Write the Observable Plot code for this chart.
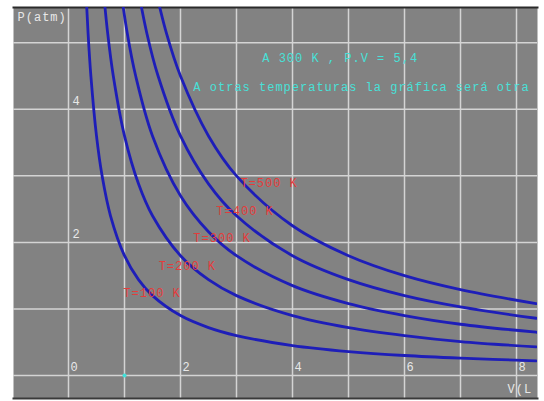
<!DOCTYPE html>
<html>
<head>
<meta charset="utf-8">
<script src="https://cdn.jsdelivr.net/npm/d3@7"></script>
<script src="https://cdn.jsdelivr.net/npm/@observablehq/plot@0.6"></script>
<style>
  html, body { margin: 0; padding: 0; background: #ffffff; }
  #chart svg { display: block; }
  #chart svg text { letter-spacing: 1px; }
</style>
</head>
<body>
<div id="chart"></div>
<script>
// Temperatures (K) of the isotherms
const temps = [100, 200, 300, 400, 500];

// Volumes (L) and pressures (atm) read along each isotherm
const v100 = [0.3, 0.35, 0.4, 0.5, 0.6, 0.75, 1, 1.25, 1.5, 2, 2.5, 3, 4, 5, 6, 7, 8.35];
const p100 = [6.0, 5.14, 4.5, 3.6, 3.0, 2.4, 1.8, 1.44, 1.2, 0.9, 0.72, 0.6, 0.45, 0.36, 0.3, 0.26, 0.22];
const v200 = [0.6, 0.7, 0.8, 1, 1.25, 1.5, 2, 2.5, 3, 4, 5, 6, 7, 8.35];
const p200 = [6.0, 5.14, 4.5, 3.6, 2.88, 2.4, 1.8, 1.44, 1.2, 0.9, 0.72, 0.6, 0.51, 0.43];
const v300 = [0.9, 1.05, 1.2, 1.5, 2, 2.5, 3, 4, 5, 6, 7, 8.35];
const p300 = [6.0, 5.14, 4.5, 3.6, 2.7, 2.16, 1.8, 1.35, 1.08, 0.9, 0.77, 0.65];
const v400 = [1.2, 1.4, 1.6, 2, 2.5, 3, 4, 5, 6, 7, 8.35];
const p400 = [6.0, 5.14, 4.5, 3.6, 2.88, 2.4, 1.8, 1.44, 1.2, 1.03, 0.86];
const v500 = [1.5, 1.75, 2, 2.5, 3, 4, 5, 6, 7, 8.35];
const p500 = [6.0, 5.14, 4.5, 3.6, 3.0, 2.25, 1.8, 1.5, 1.29, 1.08];

// Curve label anchors (V, P) and texts
const labelTexts = ["T=100 K", "T=200 K", "T=300 K", "T=400 K", "T=500 K"];
const labelV = [0.98, 1.61, 2.23, 2.64, 3.07];
const labelP = [1.23, 1.65, 2.06, 2.47, 2.89];

// Annotation lines
const noteTexts = ["A 300 K , P.V = 5,4", "A otras temperaturas la gráfica será otra"];
const noteV = [3.46, 2.23];
const noteP = [4.77, 4.33];

// Grid and tick labels
const xGrid = [0, 1, 2, 3, 4, 5, 6, 7, 8];
const yGrid = [0, 1, 2, 3, 4, 5];
const xTickLabels = [0, 2, 4, 6, 8];
const yTickLabels = [2, 4];

// Axis titles
const axisTitles = ["P(atm)", "V(L"];
const axisTitleV = [-0.91, 7.84];
const axisTitleP = [5.38, -0.2];

// Build tables
const curveVs = [v100, v200, v300, v400, v500];
const curvePs = [p100, p200, p300, p400, p500];
const curves = temps.flatMap((t, i) => curveVs[i].map((v, j) => ({T: t, V: v, P: curvePs[i][j]})));
const labels = labelTexts.map((s, i) => ({s, V: labelV[i], P: labelP[i]}));
const notes = noteTexts.map((s, i) => ({s, V: noteV[i], P: noteP[i]}));
const titles = axisTitles.map((s, i) => ({s, V: axisTitleV[i], P: axisTitleP[i]}));

const mono = "'Liberation Mono', 'DejaVu Sans Mono', monospace";
const gridColor = "#d4d4d4";

const chart = Plot.plot({
  width: 544,
  height: 401,
  marginLeft: 13,
  marginRight: 7,
  marginTop: 7,
  marginBottom: 3,
  style: {background: "#ffffff", fontFamily: mono, fontSize: "12px", overflow: "hidden"},
  x: {domain: [-0.982, 8.375], axis: null},
  y: {domain: [-0.346, 5.53], axis: null},
  marks: [
    Plot.frame({fill: "#828282", stroke: null}),
    Plot.ruleX(xGrid, {stroke: gridColor, strokeWidth: 1.5}),
    Plot.ruleY(yGrid, {stroke: gridColor, strokeWidth: 1.5}),
    Plot.frame({anchor: "top", stroke: "#2a2a2a", strokeWidth: 2}),
    Plot.frame({anchor: "bottom", stroke: "#3a3a3a", strokeWidth: 2}),
    Plot.line(curves, {x: "V", y: "P", z: "T", stroke: "#1e1eb8", strokeWidth: 2.8, curve: "catmull-rom", clip: true}),
    Plot.dot([1], {x: d => d, y: 0, r: 2, fill: "#40e0d8", stroke: null}),
    Plot.text(xTickLabels, {x: d => d, y: 0, text: d => String(d), dx: 2, dy: -8, textAnchor: "start", fill: "#e8e8e8", fontSize: 12, fontFamily: mono}),
    Plot.text(yTickLabels, {x: 0, y: d => d, text: d => String(d), dx: 4, dy: -8, textAnchor: "start", fill: "#e8e8e8", fontSize: 12, fontFamily: mono}),
    Plot.text(titles, {x: "V", y: "P", text: "s", textAnchor: "start", fill: "#e8e8e8", fontSize: 12, fontFamily: mono}),
    Plot.text(labels, {x: "V", y: "P", text: "s", textAnchor: "start", fill: "#e43c3c", fontSize: 12, fontFamily: mono}),
    Plot.text(notes, {x: "V", y: "P", text: "s", textAnchor: "start", fill: "#48e0d8", fontSize: 12, fontFamily: mono})
  ]
});
document.getElementById("chart").appendChild(chart);
</script>
</body>
</html>
